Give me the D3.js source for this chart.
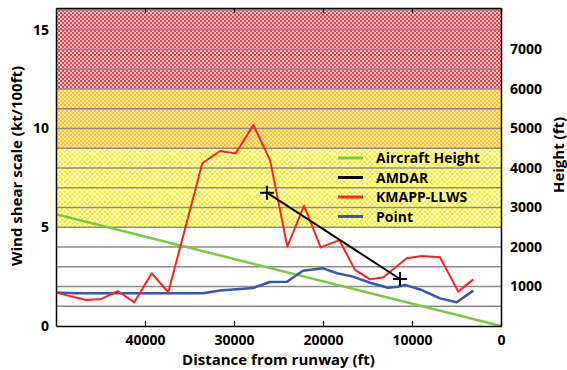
<!DOCTYPE html>
<html lang="en">
<head>
<meta charset="utf-8">
<title>Wind shear vs distance</title>
<script src="https://cdn.jsdelivr.net/npm/d3@7"></script>
<style>
  body { margin: 0; background: #fff; }
  text { font-family: "Open Sans", "DejaVu Sans", sans-serif; font-weight: bold; }
</style>
</head>
<body>
<script>
// data
var kmappDist  = [50000, 46600, 44900, 43070, 41200, 39250, 37380, 33560, 31570, 29810, 27830, 25950, 24010, 22130, 20260, 18170, 16400, 14720, 13220, 10600, 8910, 6850, 4800, 3110];
var kmappShear = [1.69, 1.32, 1.37, 1.77, 1.2, 2.67, 1.71, 8.24, 8.86, 8.74, 10.18, 8.4, 4.02, 6.09, 3.98, 4.35, 2.84, 2.36, 2.47, 3.43, 3.54, 3.48, 1.74, 2.36];

var pointDist  = [50000, 47870, 33480, 31570, 27870, 25960, 24050, 22250, 20000, 18430, 16630, 14720, 12700, 11570, 10790, 8910, 6850, 4980, 3110];
var pointShear = [1.70, 1.66, 1.66, 1.80, 1.92, 2.23, 2.24, 2.80, 2.92, 2.67, 2.50, 2.19, 1.94, 1.99, 2.08, 1.82, 1.40, 1.20, 1.79];

var amdarDist  = [26300, 11350];
var amdarShear = [6.75, 2.38];

var heightDist = [50000, 0];
var heightFt   = [2830, 0];

var xTicks = [40000, 30000, 20000, 10000, 0];
var yTicks = [0, 5, 10, 15];
var y2Ticks = [1000, 2000, 3000, 4000, 5000, 6000, 7000];

// warning bands in shear units
var bands = [
  { lo: 12, hi: 16.1, id: "pRed" },
  { lo: 9, hi: 12, id: "pOrange" },
  { lo: 5, hi: 9, id: "pYellow" }
];

var legendItems = [
  { name: "Aircraft Height", color: "#7ac943" },
  { name: "AMDAR", color: "#000000" },
  { name: "KMAPP-LLWS", color: "#ff2020" },
  { name: "Point", color: "#3a55b0" }
];

var W = 567, H = 370;
var margin = { top: 8, right: 66, bottom: 44, left: 56 };
var w = W - margin.left - margin.right;
var h = H - margin.top - margin.bottom;

var svg = d3.select("body").append("svg")
  .attr("width", W)
  .attr("height", H);

// checker patterns
var defs = svg.append("defs");
function checker(id, c1, c2, s) {
  var p = defs.append("pattern")
    .attr("id", id)
    .attr("patternUnits", "userSpaceOnUse")
    .attr("width", s * 2)
    .attr("height", s * 2);
  p.append("rect").attr("width", s * 2).attr("height", s * 2).attr("fill", c2);
  p.append("rect").attr("width", s).attr("height", s).attr("fill", c1);
  p.append("rect").attr("x", s).attr("y", s).attr("width", s).attr("height", s).attr("fill", c1);
}
checker("pRed", "#f0404c", "#fbc4c8", 2);
checker("pOrange", "#ffc22e", "#ffe6a0", 2);
checker("pYellow", "#fff200", "#ffffff", 2.5);

var g = svg.append("g").attr("transform", "translate(" + margin.left + "," + margin.top + ")");

var x = d3.scaleLinear().domain([50000, 0]).range([0, w]);
var y = d3.scaleLinear().domain([0, 16.1]).range([h, 0]);
var y2 = d3.scaleLinear().domain([0, 8050]).range([h, 0]);

// bands
g.selectAll("rect.band")
  .data(bands)
  .enter()
  .append("rect")
  .attr("class", "band")
  .attr("x", 0)
  .attr("width", w)
  .attr("y", function(d) { return y(d.hi); })
  .attr("height", function(d) { return y(d.lo) - y(d.hi); })
  .attr("fill", function(d) { return "url(#" + d.id + ")"; });

// grid lines every 1 unit
g.selectAll("line.grid")
  .data(d3.range(1, 17))
  .enter()
  .append("line")
  .attr("class", "grid")
  .attr("x1", 0)
  .attr("x2", w)
  .attr("y1", function(d) { return y(d); })
  .attr("y2", function(d) { return y(d); })
  .attr("stroke", "#8c8c8c")
  .attr("stroke-width", 1.5);

// series
function drawLine(xs, ys, scaleY, color, width) {
  var pts = xs.map(function(d, i) { return [d, ys[i]]; });
  var line = d3.line()
    .x(function(d) { return x(d[0]); })
    .y(function(d) { return scaleY(d[1]); });
  g.append("path")
    .datum(pts)
    .attr("d", line)
    .attr("fill", "none")
    .attr("stroke", color)
    .attr("stroke-width", width)
    .attr("stroke-linejoin", "round");
  return pts;
}

drawLine(heightDist, heightFt, y2, "#7ac943", 2.5);
drawLine(pointDist, pointShear, y, "#3a55b0", 2.5);
drawLine(kmappDist, kmappShear, y, "#ff2020", 2);
var amdarPts = drawLine(amdarDist, amdarShear, y, "#000000", 2);

// AMDAR cross markers
g.selectAll("path.cross")
  .data(amdarPts)
  .enter()
  .append("path")
  .attr("class", "cross")
  .attr("transform", function(d) { return "translate(" + x(d[0]) + "," + y(d[1]) + ")"; })
  .attr("d", "M-7,0H7M0,-7V7")
  .attr("stroke", "#000")
  .attr("stroke-width", 2);

// axes
var fmt = d3.format("d");
var xAxis = d3.axisBottom(x).tickValues(xTicks).tickFormat(fmt).tickSizeInner(-5).tickSizeOuter(0).tickPadding(9);
var xAxisTop = d3.axisTop(x).tickValues(xTicks).tickSizeInner(-5).tickSizeOuter(0).tickFormat("");
var yAxis = d3.axisLeft(y).tickValues(yTicks).tickFormat(fmt).tickSizeInner(0).tickSizeOuter(0).tickPadding(7);
var yAxis2 = d3.axisRight(y2).tickValues(y2Ticks).tickFormat(fmt).tickSizeInner(0).tickSizeOuter(0).tickPadding(9);

function styleAxis(sel) {
  sel.select(".domain").attr("stroke", "#000").attr("stroke-width", 1.5);
  sel.selectAll(".tick line").attr("stroke", "#000").attr("stroke-width", 1.2);
  sel.selectAll(".tick text").attr("font-size", "14px").attr("fill", "#000");
}

g.append("g").attr("transform", "translate(0," + h + ")").call(xAxis).call(styleAxis);
g.append("g").call(xAxisTop).call(styleAxis);
g.append("g").call(yAxis).call(styleAxis);
g.append("g").attr("transform", "translate(" + w + ",0)").call(yAxis2).call(styleAxis);

// axis titles
svg.append("text")
  .attr("x", margin.left + w / 2)
  .attr("y", 365)
  .attr("text-anchor", "middle")
  .attr("font-size", "15px")
  .text("Distance from runway (ft)");

svg.append("text")
  .attr("transform", "translate(22,166) rotate(-90)")
  .attr("text-anchor", "middle")
  .attr("font-size", "15px")
  .text("Wind shear scale (kt/100ft)");

svg.append("text")
  .attr("transform", "translate(564,155) rotate(-90)")
  .attr("text-anchor", "middle")
  .attr("font-size", "15px")
  .text("Height (ft)");

// legend
var legend = svg.append("g").attr("transform", "translate(338,158)");
var rows = legend.selectAll("g")
  .data(legendItems)
  .enter()
  .append("g")
  .attr("transform", function(d, i) { return "translate(0," + (i * 19.5) + ")"; });
rows.append("line")
  .attr("x1", 0).attr("x2", 25)
  .attr("stroke", function(d) { return d.color; })
  .attr("stroke-width", 3);
rows.append("text")
  .attr("x", 38)
  .attr("dy", "0.36em")
  .attr("font-size", "14px")
  .text(function(d) { return d.name; });
</script>
</body>
</html>
